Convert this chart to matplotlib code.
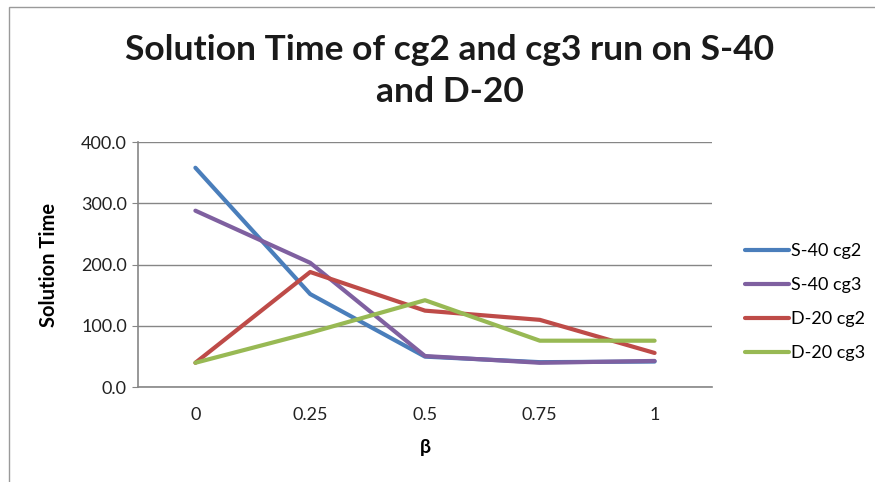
import matplotlib
matplotlib.use('Agg')
import matplotlib.pyplot as plt
from matplotlib.patches import Rectangle

beta = ["0", "0.25", "0.5", "0.75", "1"]
s40_cg2 = [358, 152, 50, 41, 42]
s40_cg3 = [288, 203, 51, 40, 43]
d20_cg2 = [40, 188, 125, 110, 56]
d20_cg3 = [40, 89, 142, 76, 76]

series = [
    ("S-40 cg2", s40_cg2, "#4A7EBB"),
    ("S-40 cg3", s40_cg3, "#7F60A0"),
    ("D-20 cg2", d20_cg2, "#BE4B48"),
    ("D-20 cg3", d20_cg3, "#98B954"),
]

FONT = ["Lato", "DejaVu Sans"]
GRID = "#868686"

fig = plt.figure(figsize=(8.75, 4.82), dpi=100)
fig.patch.set_facecolor("white")

# chart area border (only top and left edges visible in the crop)
fig.patches.append(Rectangle((9 / 875, -0.1), 1.2, 1 - 7 / 482 + 0.1,
                             transform=fig.transFigure, fill=False,
                             edgecolor="#9a9a9a", linewidth=1.0))

ax = fig.add_axes([138 / 875, 94.7 / 482, 574 / 875, 245.3 / 482])
x = range(len(beta))
for name, vals, col in series:
    ax.plot(x, vals, color=col, linewidth=3.0, label=name,
            solid_capstyle="round", solid_joinstyle="round", zorder=3)

ax.set_xlim(-0.5, len(beta) - 0.5)
ax.set_ylim(0, 400)
ax.set_yticks([0, 100, 200, 300, 400])
ax.set_yticklabels([f"{v:.1f}" for v in [0, 100, 200, 300, 400]])
ax.set_xticks(list(x))
ax.set_xticklabels(beta)
for lab in ax.get_xticklabels() + ax.get_yticklabels():
    lab.set_family(FONT)
    lab.set_fontsize(13)
    lab.set_color("#222222")

ax.yaxis.grid(True, color=GRID, linewidth=1.0, zorder=0)
ax.set_axisbelow(True)
for s in ["top", "right"]:
    ax.spines[s].set_visible(False)
ax.spines["left"].set_color(GRID)
ax.spines["bottom"].set_color(GRID)
ax.spines["left"].set_linewidth(1.2)
ax.spines["bottom"].set_linewidth(1.2)
ax.tick_params(axis="y", length=4, color=GRID, pad=4)
ax.tick_params(axis="x", length=0, pad=14)

ax.set_ylabel("Solution Time", family=FONT, fontsize=14.5,
              fontweight="bold", labelpad=16)
ax.set_xlabel("β", family=FONT, fontsize=14, fontweight="bold",
              labelpad=12)

fig.text(450 / 875, 1 - 71 / 482,
         "Solution Time of cg2 and cg3 run on S-40\nand D-20",
         ha="center", va="center", family=FONT, fontsize=25.5,
         fontweight="bold", color="#1a1a1a", linespacing=1.38)

leg = fig.legend(loc="upper left", bbox_to_anchor=(729 / 875, 1 - 227 / 482),
                 frameon=False, handlelength=2.45, handletextpad=0.1,
                 labelspacing=1.0, prop={"family": FONT, "size": 13})

plt.savefig("out.png", dpi=100, facecolor="white")
